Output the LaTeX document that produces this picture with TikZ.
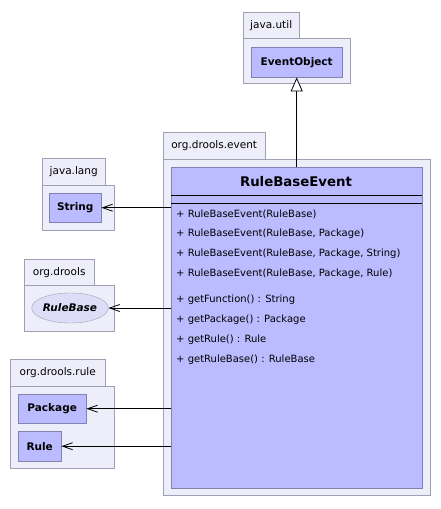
\documentclass[tikz,border=0pt]{standalone}
\usepackage{fontspec}
\setmainfont{DejaVu Sans}
\usepackage{xcolor}
\usetikzlibrary{arrows.meta,shapes.geometric}
\definecolor{pkgfill}{RGB}{238,238,250}
\definecolor{pkgline}{RGB}{160,160,180}
\definecolor{clsfill}{RGB}{187,187,255}
\definecolor{clsline}{RGB}{130,130,175}
\definecolor{ifcfill}{RGB}{221,221,248}

\begin{document}
\begin{tikzpicture}[x=1pt,y=-1pt,
  pkgtab/.style={draw=pkgline,fill=pkgfill,anchor=north west,inner sep=0pt,font=\fontsize{10.5}{12}\selectfont},
  pkgbody/.style={draw=pkgline,fill=pkgfill,anchor=north west,inner sep=0pt},
  cls/.style={draw=clsline,fill=clsfill,anchor=north west,inner sep=0pt,font=\bfseries\fontsize{10.5}{12}\selectfont},
  meth/.style={anchor=west,inner sep=0pt,font=\fontsize{10}{12}\selectfont},
  dep/.style={-{Straight Barb[length=10pt,width=7pt]},line width=0.8pt},
  inherit/.style={-{Triangle[open,length=14pt,width=12pt,fill=white]},line width=0.8pt}]
\useasboundingbox[fill=white] (0,0) rectangle (441,509);
% java.util
\node[pkgtab,minimum width=56pt,minimum height=26pt] (utiltab) at (243,12) {java.util};
\node[pkgbody,minimum width=107pt,minimum height=45pt] (utilbody) at (243,38) {};
\node[cls,minimum width=91pt,minimum height=30pt] (evo) at (251,47) {EventObject};
% org.drools.event
\node[pkgtab,minimum width=102pt,minimum height=27pt] (eventtab) at (163,132) {org.drools.event};
\node[pkgbody,minimum width=267pt,minimum height=336pt] (eventbody) at (163,159) {};
\node[cls,minimum width=251pt,minimum height=321pt] (rbe) at (171,167) {};
\node[font=\bfseries\fontsize{13.3}{15}\selectfont] (rbetitle) at (296,182) {RuleBaseEvent};
\draw (171,195) -- (422,195);
\draw (171,203) -- (422,203);
\foreach \y/\t [count=\i] in {214/{RuleBaseEvent(RuleBase)},
    234/{RuleBaseEvent(RuleBase, Package)},
    254/{RuleBaseEvent(RuleBase, Package, String)},
    274/{RuleBaseEvent(RuleBase, Package, Rule)},
    300/{getFunction() : String},
    320/{getPackage() : Package},
    340/{getRule() : Rule},
    360/{getRuleBase() : RuleBase}}
  \node[meth] (m\i) at (176,\y) {+ \t};
% java.lang
\node[pkgtab,minimum width=63pt,minimum height=27pt] (langtab) at (42,158) {java.lang};
\node[pkgbody,minimum width=72pt,minimum height=45pt] (langbody) at (42,185) {};
\node[cls,minimum width=52pt,minimum height=29pt] (str) at (49,193) {String};
% org.drools
\node[pkgtab,minimum width=70pt,minimum height=26pt] (droolstab) at (24,259) {org.drools};
\node[pkgbody,minimum width=90pt,minimum height=46pt] (droolsbody) at (24,285) {};
\node[ellipse,draw=pkgline,fill=ifcfill,minimum width=76pt,minimum height=30pt,inner sep=0pt,
  font=\bfseries\itshape\fontsize{10.5}{12}\selectfont] (rb) at (70,308) {RuleBase};
% org.drools.rule
\node[pkgtab,minimum width=95pt,minimum height=27pt] (ruletab) at (10,359) {org.drools.rule};
\node[pkgbody,minimum width=104pt,minimum height=82pt] (rulebody) at (10,386) {};
\node[cls,minimum width=68pt,minimum height=29pt] (pkg) at (18,394) {Package};
\node[cls,minimum width=43pt,minimum height=30pt] (rule) at (18,431) {Rule};
% relations
\draw[inherit] (rbe.north) -- (evo.south);
\draw[dep] (str.east -| rbe.west) -- (str.east);
\draw[dep] (rb.east -| rbe.west) -- (rb.east);
\draw[dep] (pkg.east -| rbe.west) -- (pkg.east);
\draw[dep] (rule.east -| rbe.west) -- (rule.east);
\end{tikzpicture}
\end{document}
